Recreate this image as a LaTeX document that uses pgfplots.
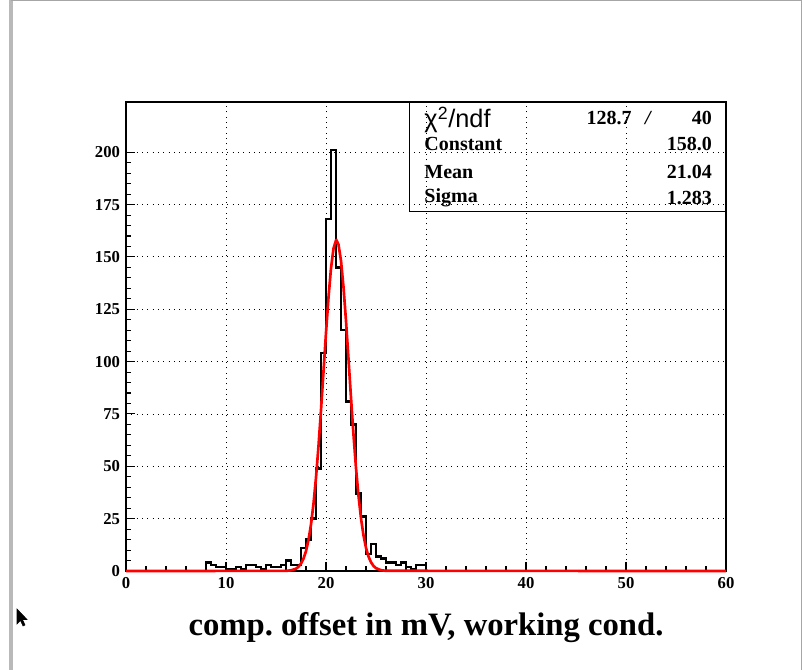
\documentclass[border=0pt]{standalone}
\usepackage{pgfplots}
\usepackage{pgfplotstable}
\pgfplotsset{compat=1.18}
\usepackage{fontspec}
\setmainfont{Liberation Serif}
\newfontfamily\sans{Liberation Sans}

% histogram contents, bin width 0.5, left edges
\pgfplotstableread{
x y
0.0 0
8.0 4
8.5 3
9.0 2
9.5 2
10.0 1
10.5 1
11.0 2
11.5 1
12.0 3
12.5 3
13.0 2
13.5 1
14.0 3
14.5 2
15.0 2
15.5 3
16.0 5
16.5 3
17.0 3
17.5 11
18.0 15
18.5 25
19.0 49
19.5 104
20.0 168
20.5 201
21.0 145
21.5 115
22.0 81
22.5 70
23.0 37
23.5 26
24.0 8
24.5 13
25.0 7
25.5 6
26.0 4
26.5 4
27.0 3
27.5 4
28.0 2
28.5 1
29.0 3
29.5 3
30.0 0
60.0 0
}\histo

% gaussian fit, read point by point
\pgfplotstableread{
x y
0.0 0
16.0 0.07
16.5 0.30
17.0 1.11
17.25 2.01
17.5 3.51
17.75 5.90
18.0 9.54
18.25 14.85
18.5 22.26
18.75 32.13
19.0 44.64
19.25 59.70
19.5 76.88
19.75 95.31
20.0 113.75
20.25 130.72
20.5 144.61
20.75 154.02
21.0 157.92
21.04 158.0
21.25 155.90
21.5 148.16
21.75 135.57
22.0 119.42
22.25 101.27
22.5 82.69
22.75 65.00
23.0 49.19
23.25 35.84
23.5 25.14
23.75 16.98
24.0 11.04
24.25 6.91
24.5 4.16
24.75 2.41
25.0 1.35
25.5 0.38
26.0 0.09
60.0 0
}\fitcurve

\begin{document}
\begin{tikzpicture}
\begin{scope}[x=0.75pt,y=0.75pt]
\useasboundingbox (0,0) rectangle (802,670);
\fill[white] (0,0) rectangle (802,670);
\draw[gray!55, line width=2.5pt] (11,0) -- (11,670);
\draw[gray!70, line width=0.75pt] (11,669.4) -- (802,669.4);
\draw[gray!70, line width=0.75pt] (801.4,669.4) -- (801.4,0);
% mouse pointer
\filldraw[black, line width=0.4pt] (17,61) -- (17,46) -- (20.5,49.5) -- (23,44) -- (25,45) -- (22.5,50.5) -- (27,50.5) -- cycle;
\end{scope}
\begin{axis}[
    at={(94.5pt,74.25pt)}, anchor=south west,
    width=450pt, height=351.75pt, scale only axis,
    xmin=0, xmax=60, ymin=0, ymax=224,
    xtick={0,10,...,60}, ytick={0,25,...,200},
    minor x tick num=4, minor y tick num=4,
    tick pos=left, tick align=inside,
    major tick length=6.5pt, minor tick length=3.5pt,
    grid=major,
    major grid style={black, line width=0.65pt, dash pattern=on 0.8pt off 3.2pt},
    axis line style={black, line width=1.2pt},
    tick style={black, line width=0.8pt},
    ticklabel style={font=\fontsize{12.5}{14}\selectfont\bfseries},
    /pgf/number format/assume math mode=true,
    xticklabel style={yshift=-1pt},
    yticklabel style={xshift=-1pt},
    xlabel={comp.\ offset in mV, working cond.},
    xlabel style={font=\fontsize{24.5}{29}\selectfont\bfseries,
        at={(axis description cs:0.5,-0.12)}, anchor=center},
    clip=false,
]
\addplot[black, line width=1.8pt, const plot] table {\histo};
\addplot[red, line width=2pt] table {\fitcurve};

\draw[black, line width=0.9pt] (rel axis cs:0.473,0.767) rectangle (rel axis cs:1,1);
\begin{scope}[every node/.style={font=\fontsize{15}{17}\selectfont\bfseries, inner sep=0pt}]
\node[anchor=west] at (rel axis cs:0.497,0.962) {\sans\mdseries\fontsize{19}{21}\selectfont χ\textsuperscript{2}/ndf};
\node[anchor=east] at (rel axis cs:0.843,0.966) {128.7};
\node at (rel axis cs:0.870,0.966) {\itshape /};
\node[anchor=east] at (rel axis cs:0.977,0.966) {40};
\node[anchor=west] at (rel axis cs:0.497,0.910) {Constant};
\node[anchor=east] at (rel axis cs:0.977,0.910) {158.0};
\node[anchor=west] at (rel axis cs:0.497,0.851) {Mean};
\node[anchor=east] at (rel axis cs:0.977,0.851) {21.04};
\node[anchor=west] at (rel axis cs:0.497,0.795) {Sigma};
\node[anchor=east] at (rel axis cs:0.977,0.795) {1.283};
\end{scope}
\end{axis}
\end{tikzpicture}
\end{document}
